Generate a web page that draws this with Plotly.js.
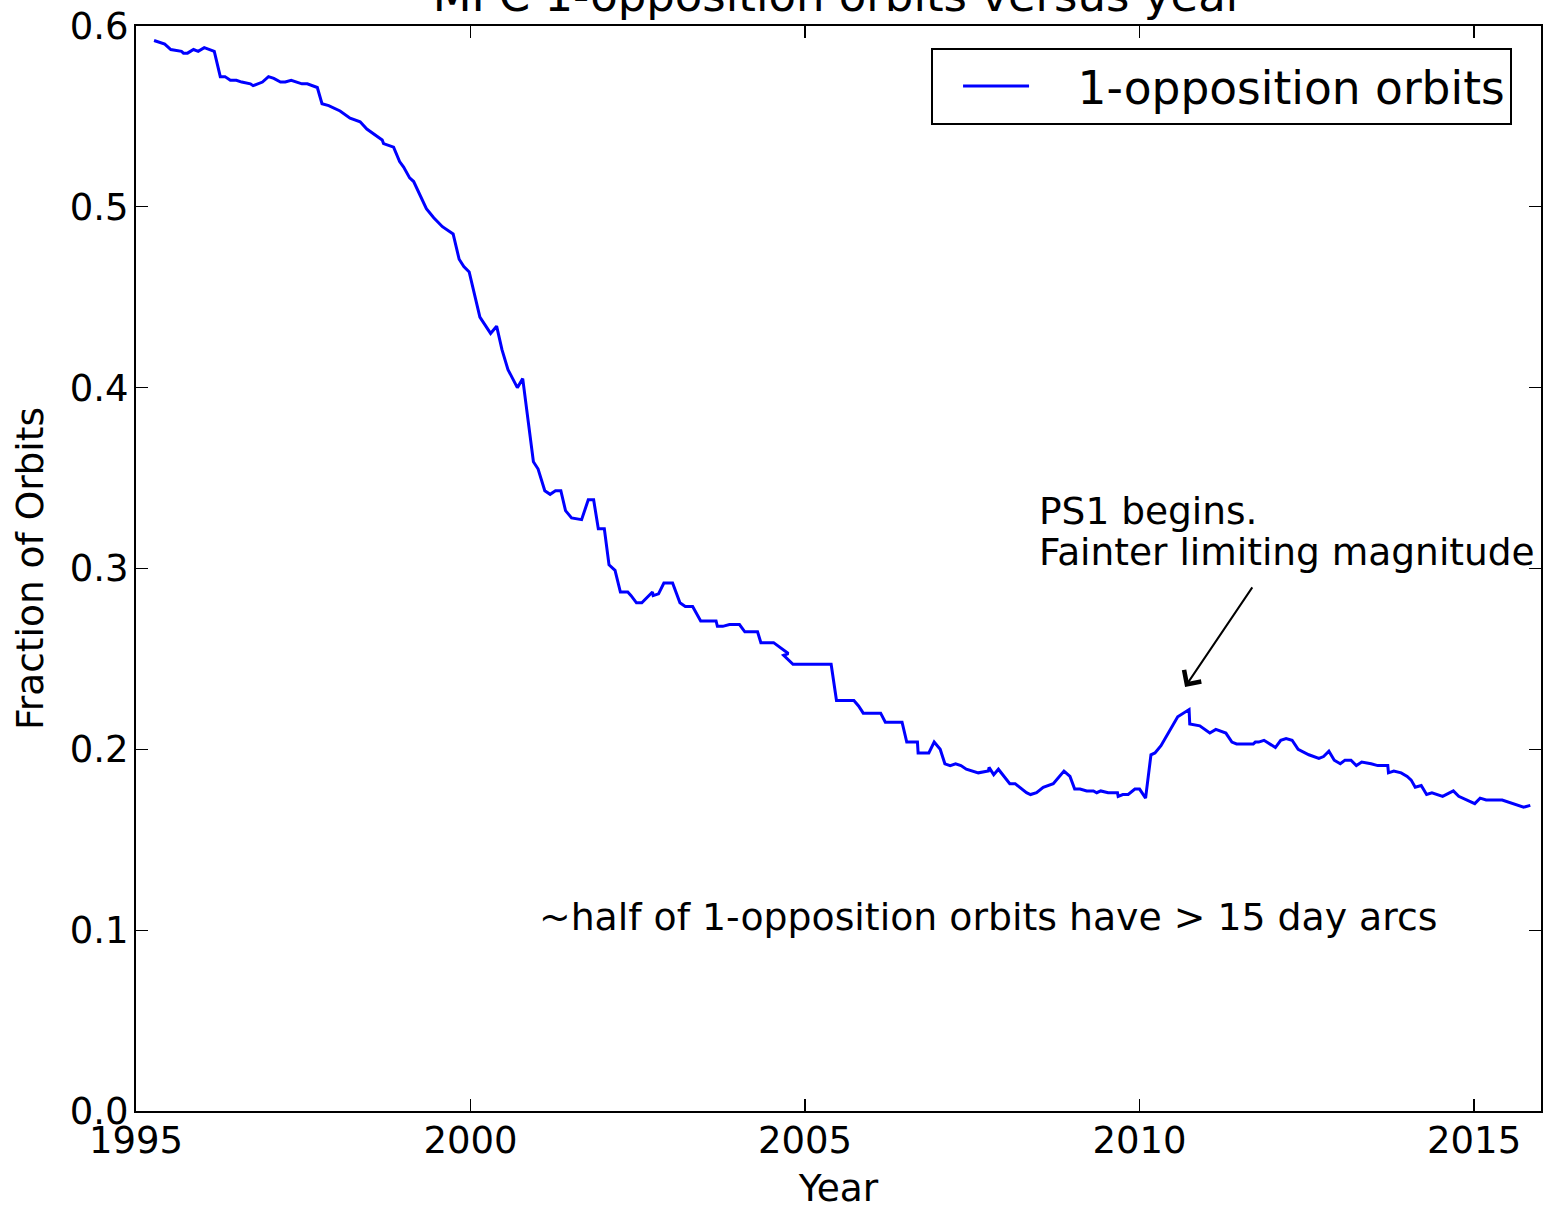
<!DOCTYPE html>
<html>
<head>
<meta charset="utf-8">
<script src="https://cdn.plot.ly/plotly-3.0.1.min.js"></script>
<style>
  html, body { margin: 0; padding: 0; background: #fff; }
  #chart { width: 1546px; height: 1210px; }
</style>
</head>
<body>
<div id="chart"></div>
<script>
// Year (decimal) of each sample
const years = [
  1995.27, 1995.43, 1995.52, 1995.68, 1995.71, 1995.77, 1995.86, 1995.93, 1996.02, 1996.17,
  1996.26, 1996.33, 1996.41, 1996.50, 1996.58, 1996.71, 1996.75, 1996.89, 1996.98, 1997.06,
  1997.16, 1997.23, 1997.32, 1997.41, 1997.48, 1997.56, 1997.71, 1997.78, 1997.88, 1998.05,
  1998.20, 1998.35, 1998.45, 1998.68, 1998.70, 1998.85, 1998.94, 1999.00, 1999.09, 1999.15,
  1999.34, 1999.45, 1999.58, 1999.74, 1999.83, 1999.90, 1999.98, 2000.14, 2000.30, 2000.39,
  2000.47, 2000.56, 2000.70, 2000.78, 2000.94, 2001.01, 2001.11, 2001.19, 2001.27, 2001.35,
  2001.42, 2001.51, 2001.66, 2001.76, 2001.84, 2001.91, 2002.00, 2002.07, 2002.16, 2002.24,
  2002.35, 2002.40, 2002.48, 2002.56, 2002.72, 2002.73, 2002.81, 2002.89, 2003.02, 2003.13,
  2003.21, 2003.32, 2003.44, 2003.67, 2003.69, 2003.77, 2003.87, 2004.02, 2004.10, 2004.29,
  2004.34, 2004.53, 2004.75, 2004.68, 2004.82, 2005.39, 2005.47, 2005.73, 2005.80, 2005.87,
  2006.13, 2006.20, 2006.45, 2006.52, 2006.68, 2006.69, 2006.85, 2006.93, 2007.02, 2007.09,
  2007.17, 2007.25, 2007.33, 2007.41, 2007.59, 2007.74, 2007.75, 2007.82, 2007.89, 2008.06,
  2008.14, 2008.31, 2008.37, 2008.46, 2008.56, 2008.71, 2008.87, 2008.96, 2009.03, 2009.11,
  2009.21, 2009.31, 2009.36, 2009.42, 2009.53, 2009.67, 2009.68, 2009.75, 2009.83, 2009.93,
  2010.00, 2010.09, 2010.17, 2010.23, 2010.32, 2010.57, 2010.65, 2010.74, 2010.75, 2010.90,
  2011.05, 2011.14, 2011.29, 2011.38, 2011.45, 2011.70, 2011.73, 2011.78, 2011.86, 2012.03,
  2012.11, 2012.19, 2012.28, 2012.37, 2012.53, 2012.68, 2012.75, 2012.83, 2012.91, 2013.00,
  2013.07, 2013.16, 2013.24, 2013.32, 2013.46, 2013.56, 2013.71, 2013.72, 2013.80, 2013.91,
  2014.00, 2014.06, 2014.12, 2014.21, 2014.29, 2014.37, 2014.53, 2014.69, 2014.77, 2015.01,
  2015.09, 2015.18, 2015.42, 2015.57, 2015.74, 2015.84
];

// Fraction of MPC orbits that are 1-opposition orbits
const fraction = [
  0.592, 0.590, 0.587, 0.586, 0.585, 0.585, 0.587, 0.586, 0.588, 0.586,
  0.572, 0.572, 0.570, 0.570, 0.569, 0.568, 0.567, 0.569, 0.572, 0.571,
  0.569, 0.569, 0.570, 0.569, 0.568, 0.568, 0.566, 0.557, 0.556, 0.553,
  0.549, 0.547, 0.543, 0.537, 0.535, 0.533, 0.525, 0.522, 0.516, 0.514,
  0.499, 0.494, 0.489, 0.485, 0.471, 0.467, 0.464, 0.439, 0.430, 0.434,
  0.421, 0.410, 0.400, 0.405, 0.359, 0.355, 0.343, 0.341, 0.343, 0.343,
  0.332, 0.328, 0.327, 0.338, 0.338, 0.322, 0.322, 0.302, 0.299, 0.287,
  0.287, 0.285, 0.281, 0.281, 0.287, 0.285, 0.286, 0.292, 0.292, 0.281,
  0.279, 0.279, 0.271, 0.271, 0.268, 0.268, 0.269, 0.269, 0.265, 0.265,
  0.259, 0.259, 0.253, 0.252, 0.247, 0.247, 0.227, 0.227, 0.224, 0.220,
  0.220, 0.215, 0.215, 0.204, 0.204, 0.198, 0.198, 0.204, 0.200, 0.192,
  0.191, 0.192, 0.191, 0.189, 0.187, 0.188, 0.190, 0.186, 0.189, 0.181,
  0.181, 0.176, 0.175, 0.176, 0.179, 0.181, 0.188, 0.185, 0.178, 0.178,
  0.177, 0.177, 0.176, 0.177, 0.176, 0.176, 0.174, 0.175, 0.175, 0.178,
  0.178, 0.173, 0.197, 0.198, 0.202, 0.218, 0.220, 0.222, 0.214, 0.213,
  0.209, 0.211, 0.209, 0.204, 0.203, 0.203, 0.204, 0.204, 0.205, 0.201,
  0.205, 0.206, 0.205, 0.200, 0.197, 0.195, 0.196, 0.199, 0.194, 0.192,
  0.194, 0.194, 0.191, 0.193, 0.192, 0.191, 0.191, 0.187, 0.188, 0.187,
  0.185, 0.183, 0.179, 0.180, 0.175, 0.176, 0.174, 0.177, 0.174, 0.170,
  0.173, 0.172, 0.172, 0.170, 0.168, 0.169
];

const xTicks = [1995, 2000, 2005, 2010, 2015];
const xTickLabels = ['1995', '2000', '2005', '2010', '2015'];
const yTicks = [0.0, 0.1, 0.2, 0.3, 0.4, 0.5, 0.6];
const yTickLabels = ['0.0', '0.1', '0.2', '0.3', '0.4', '0.5', '0.6'];

const FONT = 'DejaVu Sans, sans-serif';
const NB = '\u00a0';

const trace = {
  x: years,
  y: fraction,
  type: 'scatter',
  mode: 'lines',
  name: NB + NB + NB + '1-opposition orbits',
  line: { color: '#0000ff', width: 3 }
};

const axisCommon = {
  showgrid: false,
  zeroline: false,
  showline: true,
  linecolor: '#000',
  linewidth: 2,
  mirror: 'ticks',
  ticks: 'inside',
  ticklen: 12,
  tickwidth: 1.2,
  tickcolor: '#000',
  tickfont: { family: FONT, size: 37, color: '#000' }
};

const layout = {
  width: 1546,
  height: 1210,
  paper_bgcolor: '#fff',
  plot_bgcolor: '#fff',
  font: { family: FONT, color: '#000' },
  margin: { l: 136, r: 5, t: 26, b: 99, pad: 0 },
  showlegend: true,
  title: {
    text: 'MPC 1-opposition orbits versus year',
    font: { family: FONT, size: 45, color: '#000' },
    x: 0.5, xref: 'paper', xanchor: 'center',
    y: 1 - 11 / 1210, yref: 'container', yanchor: 'bottom'
  },
  xaxis: Object.assign({}, axisCommon, {
    range: [1995, 2016],
    tickvals: xTicks,
    ticktext: xTickLabels,
    ticklabelstandoff: -4,
    title: { text: 'Year', font: { family: FONT, size: 37.5, color: '#000' }, standoff: 22 }
  }),
  yaxis: Object.assign({}, axisCommon, {
    range: [0, 0.6],
    tickvals: yTicks,
    ticktext: yTickLabels,
    ticklabelstandoff: -2,
    title: { text: 'Fraction of Orbits', font: { family: FONT, size: 37.5, color: '#000' }, standoff: 15 }
  }),
  legend: {
    x: 0.9794, xanchor: 'right', xref: 'paper',
    y: 0.9797, yanchor: 'top', yref: 'paper',
    bgcolor: '#fff',
    bordercolor: '#000',
    borderwidth: 2,
    font: { family: FONT, size: 45.5, color: '#000' },
    itemwidth: 66,
    indentation: 25
  },
  annotations: [
    {
      text: '~half of 1-opposition orbits have > 15 day arcs',
      x: 2000.99, y: 0.1, xref: 'x', yref: 'y',
      xanchor: 'left', yanchor: 'bottom', yshift: -11,
      showarrow: false,
      font: { family: FONT, size: 37.8, color: '#000' }
    },
    {
      text: 'PS1 begins.',
      x: 2008.47, y: 0.3245, xref: 'x', yref: 'y',
      xanchor: 'left', yanchor: 'bottom', yshift: -11,
      showarrow: false,
      font: { family: FONT, size: 37.5, color: '#000' }
    },
    {
      text: 'Fainter limiting magnitude',
      x: 2008.47, y: 0.3018, xref: 'x', yref: 'y',
      xanchor: 'left', yanchor: 'bottom', yshift: -11,
      showarrow: false,
      font: { family: FONT, size: 37.5, color: '#000' }
    },
    {
      text: '',
      x: 2010.68, y: 0.2345, xref: 'x', yref: 'y',
      ax: 2011.70, ay: 0.2904, axref: 'x', ayref: 'y',
      showarrow: true,
      arrowhead: 4,
      arrowsize: 2,
      arrowwidth: 2,
      arrowcolor: '#000',
      standoff: 0,
      startstandoff: 0
    }
  ]
};

Plotly.newPlot('chart', [trace], layout, { displayModeBar: false, staticPlot: true });
</script>
</body>
</html>
